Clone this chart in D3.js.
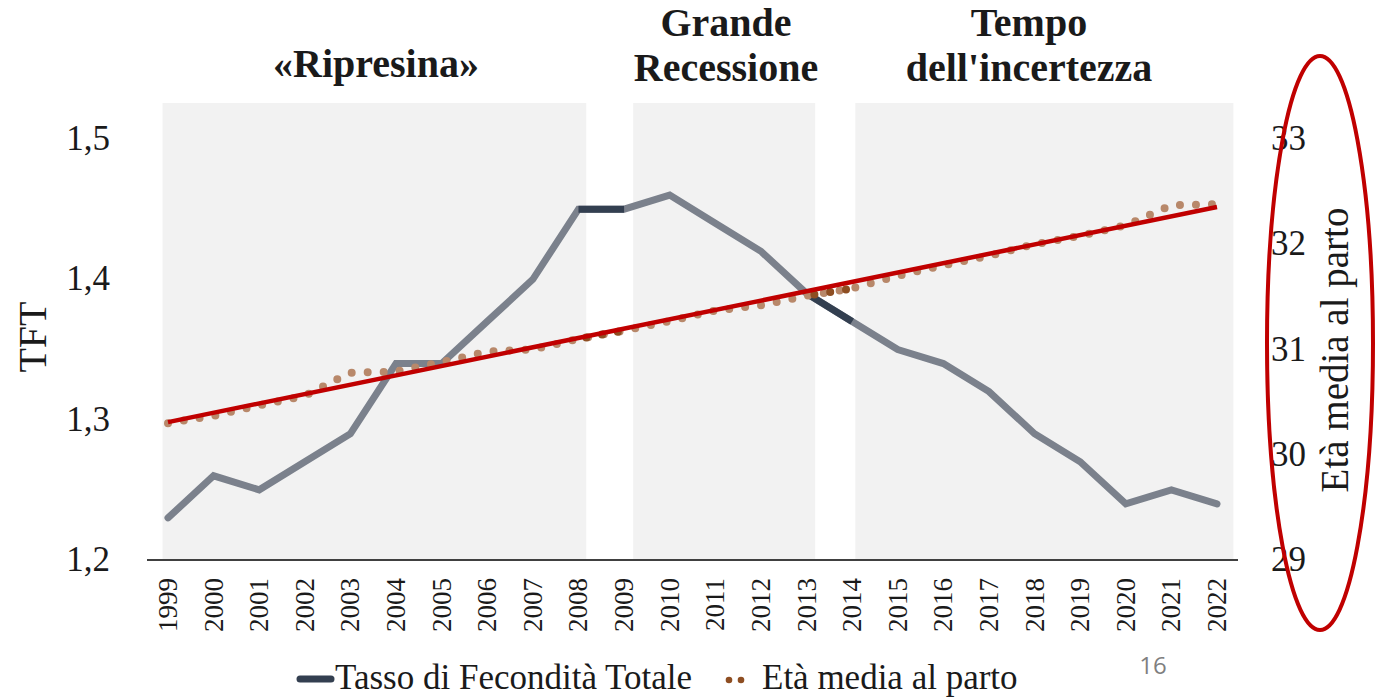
<!DOCTYPE html>
<html>
<head>
<meta charset="utf-8">
<script src="https://cdn.jsdelivr.net/npm/d3@7"></script>
<style>
  body { margin: 0; background: #fff; }
  text { font-family: "Liberation Serif", "DejaVu Serif", serif; }
</style>
</head>
<body>
<div id="chart"></div>
<script>
// data
const years = [1999, 2000, 2001, 2002, 2003, 2004, 2005, 2006, 2007, 2008, 2009, 2010,
  2011, 2012, 2013, 2014, 2015, 2016, 2017, 2018, 2019, 2020, 2021, 2022];
const tft = [1.23, 1.26, 1.25, 1.27, 1.29, 1.34, 1.34, 1.37, 1.40, 1.45, 1.45, 1.46,
  1.44, 1.42, 1.39, 1.37, 1.35, 1.34, 1.32, 1.29, 1.27, 1.24, 1.25, 1.24];
const eta = [30.3, 30.37, 30.47, 30.56, 30.78, 30.79, 30.88, 30.98, 31.0, 31.1, 31.18, 31.27,
  31.37, 31.42, 31.51, 31.58, 31.7, 31.8, 31.89, 32.0, 32.08, 32.18, 32.37, 32.38];
const leftTicks = [1.2, 1.3, 1.4, 1.5];
const rightTicks = [29, 30, 31, 32, 33];
// year spans of the highlighted segments
const highlights = [[2008, 2009], [2013, 2014]];
// shaded periods (fractional years) and their titles
const periodNames = [["«Ripresina»"], ["Grande", "Recessione"], ["Tempo", "dell'incertezza"]];
const periodStart = [1998.88, 2009.2, 2014.07];
const periodEnd = [2008.17, 2013.19, 2022.36];
const legendNames = ["Tasso di Fecondità Totale", "Età media al parto"];

const W = 1375, H = 697;
const svg = d3.select("#chart").append("svg")
  .attr("width", W).attr("height", H);

const x = d3.scaleLinear().domain([1999, 2022]).range([168, 1217]);
const yL = d3.scaleLinear().domain([1.2, 1.5]).range([560, 139]);
const yR = d3.scaleLinear().domain([29, 33]).range([560, 139]);

const tftData = years.map((y, i) => ({ year: y, v: tft[i] }));
const etaData = years.map((y, i) => ({ year: y, v: eta[i] }));

// shaded background bands
svg.selectAll(".band")
  .data(periodStart)
  .enter()
  .append("rect")
  .attr("class", "band")
  .attr("x", (d) => x(d))
  .attr("width", (d, i) => x(periodEnd[i]) - x(d))
  .attr("y", 103)
  .attr("height", 560 - 103)
  .style("fill", "#f2f2f2");

// period titles
const titleCenter = [376, 726, 1029];
periodNames.forEach((lines, i) => {
  const t = svg.append("text")
    .attr("x", titleCenter[i])
    .attr("y", lines.length === 1 ? 77 : 36)
    .attr("text-anchor", "middle")
    .style("font-size", "40px")
    .style("font-weight", "bold")
    .style("fill", "#1a1a1a");
  lines.forEach((l, j) => {
    t.append("tspan")
      .attr("x", titleCenter[i])
      .attr("dy", j === 0 ? 0 : 45)
      .text(l);
  });
});

// x axis line
svg.append("line")
  .attr("x1", 147).attr("x2", 1238)
  .attr("y1", 560).attr("y2", 560)
  .style("stroke", "#404040")
  .style("stroke-width", 2);

// x tick labels, rotated
svg.selectAll(".xlab")
  .data(years)
  .enter()
  .append("text")
  .attr("class", "xlab")
  .attr("transform", (d) => `translate(${x(d) + 9},578) rotate(-90)`)
  .attr("text-anchor", "end")
  .style("font-size", "27px")
  .style("fill", "#1a1a1a")
  .text((d) => d);

// left axis labels
svg.selectAll(".ylab")
  .data(leftTicks)
  .enter()
  .append("text")
  .attr("class", "ylab")
  .attr("x", 110)
  .attr("y", (d) => yL(d) + 11)
  .attr("text-anchor", "end")
  .style("font-size", "35px")
  .style("fill", "#1a1a1a")
  .text((d) => d3.format(".1f")(d).replace(".", ","));

svg.append("text")
  .attr("transform", "translate(46,337) rotate(-90)")
  .attr("text-anchor", "middle")
  .style("font-size", "40px")
  .style("fill", "#1a1a1a")
  .text("TFT");

// right axis labels
svg.selectAll(".rlab")
  .data(rightTicks)
  .enter()
  .append("text")
  .attr("class", "rlab")
  .attr("x", 1271)
  .attr("y", (d) => yR(d) + 11)
  .style("font-size", "35px")
  .style("fill", "#1a1a1a")
  .text((d) => d);

svg.append("text")
  .attr("transform", "translate(1348,350) rotate(-90)")
  .attr("text-anchor", "middle")
  .style("font-size", "39px")
  .style("fill", "#1a1a1a")
  .text("Età media al parto");

// TFT line
const lineL = d3.line().x((d) => x(d.year)).y((d) => yL(d.v));
const lineR = d3.line().x((d) => x(d.year)).y((d) => yR(d.v));

svg.append("path")
  .datum(tftData)
  .attr("d", lineL)
  .style("fill", "none")
  .style("stroke", "#7b818c")
  .style("stroke-width", 7)
  .style("stroke-linecap", "round");

highlights.forEach(([a, b]) => {
  svg.append("path")
    .datum(tftData.filter((d) => d.year >= a && d.year <= b))
    .attr("d", lineL)
    .style("fill", "none")
    .style("stroke", "#333f50")
    .style("stroke-width", 7);
});

// age dotted line
svg.append("path")
  .datum(etaData)
  .attr("d", lineR)
  .style("fill", "none")
  .style("stroke", "#b8886a")
  .style("stroke-width", 8)
  .style("stroke-linecap", "round")
  .style("stroke-dasharray", "0 16");

highlights.forEach(([a, b]) => {
  svg.append("path")
    .datum(etaData.filter((d) => d.year >= a && d.year <= b))
    .attr("d", lineR)
    .style("fill", "none")
    .style("stroke", "#8e4e22")
    .style("stroke-width", 8)
    .style("stroke-linecap", "round")
    .style("stroke-dasharray", "0 16")
    .style("stroke-dashoffset", -8);
});

// linear trend of age
const mx = d3.mean(years), my = d3.mean(eta);
const slope = d3.sum(years, (y, i) => (y - mx) * (eta[i] - my)) /
  d3.sum(years, (y) => (y - mx) * (y - mx));
const trend = [years[0], years[years.length - 1]].map((y) => ({ year: y, v: my + slope * (y - mx) }));

svg.append("path")
  .datum(trend)
  .attr("d", lineR)
  .style("fill", "none")
  .style("stroke", "#c00000")
  .style("stroke-width", 4.5);

// legend
svg.append("line")
  .attr("x1", 300).attr("x2", 331)
  .attr("y1", 679).attr("y2", 679)
  .style("stroke", "#333f50")
  .style("stroke-width", 7)
  .style("stroke-linecap", "round");
svg.append("text")
  .attr("x", 335).attr("y", 689)
  .style("font-size", "35px")
  .style("fill", "#1a1a1a")
  .text(legendNames[0]);
svg.selectAll(".ldot")
  .data([729, 741])
  .enter()
  .append("circle")
  .attr("cx", (d) => d).attr("cy", 680).attr("r", 3.3)
  .style("fill", "#8e4e22");
svg.append("text")
  .attr("x", 762).attr("y", 689)
  .style("font-size", "35px")
  .style("fill", "#1a1a1a")
  .text(legendNames[1]);

// page number
svg.append("text")
  .attr("x", 1153).attr("y", 674)
  .attr("text-anchor", "middle")
  .style("font-family", "'Open Sans', sans-serif")
  .style("font-size", "24px")
  .style("fill", "#7f7f7f")
  .text("16");

// red ellipse round the right axis
svg.append("ellipse")
  .attr("cx", 1320).attr("cy", 343)
  .attr("rx", 53).attr("ry", 287)
  .style("fill", "none")
  .style("stroke", "#c00000")
  .style("stroke-width", 4);
</script>
</body>
</html>
